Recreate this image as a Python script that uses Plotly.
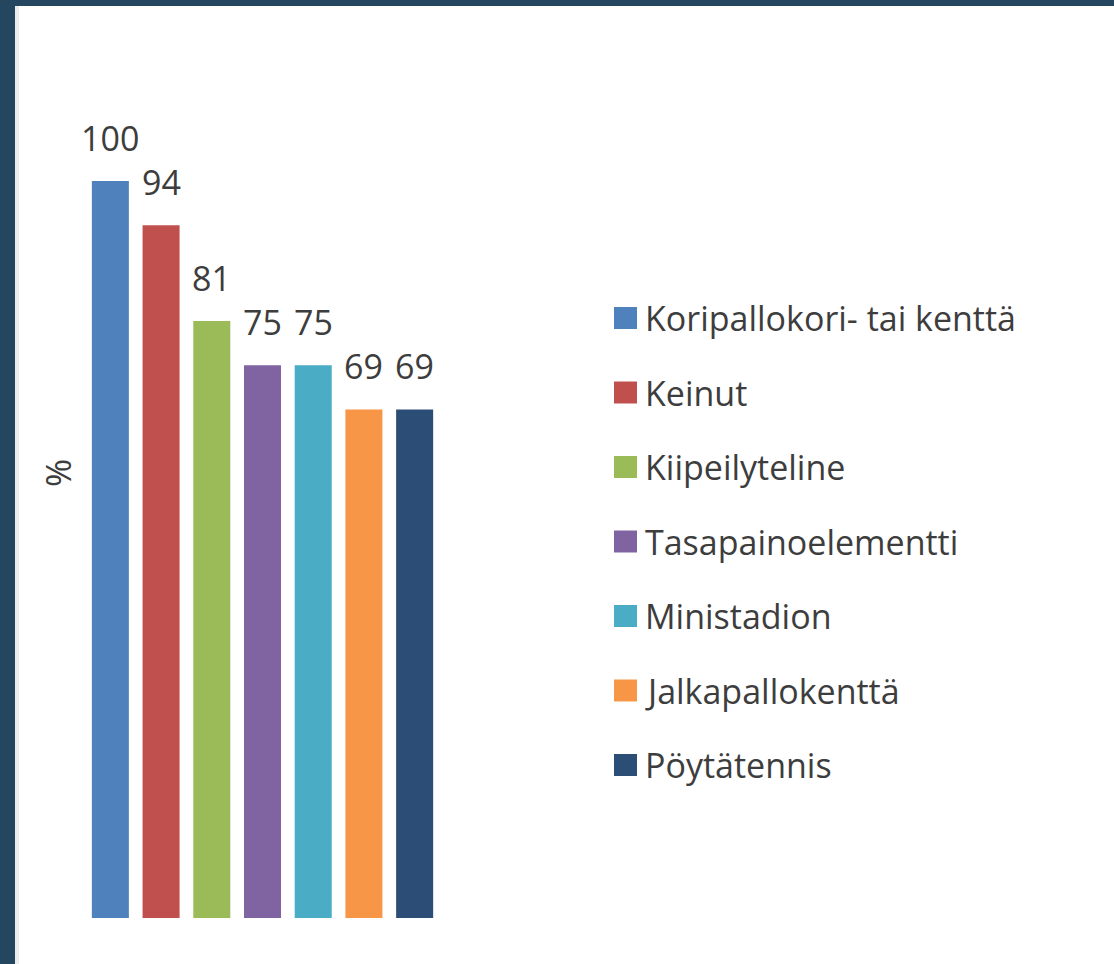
import plotly.graph_objects as go

categories = ["Koripallokori- tai kenttä", "Keinut", "Kiipeilyteline",
              "Tasapainoelementti", "Ministadion", "Jalkapallokenttä", "Pöytätennis"]
values = [100, 94, 81, 75, 75, 69, 69]
colors = ["#4F81BD", "#C0504D", "#9BBB59", "#8064A2", "#4BACC6", "#F79646", "#2C4D75"]
y_title = "%"

W, H = 1114, 964
ML, MR, MT, MB = 85, 674, 28, 46
PW = W - ML - MR
PH = H - MT - MB
TEXT = "#3D3D3D"
FONT = "Open Sans"
FS = 34
NAVY = "#24465F"


def px_x(px):
    return (px - ML) / PW


def px_y(py):
    return (H - MB - py) / PH


fig = go.Figure()
fig.add_trace(go.Bar(
    x=categories, y=values,
    marker=dict(color=colors, line=dict(width=0)),
    showlegend=False, hoverinfo="x+y",
))

annotations = []
for c, v in zip(categories, values):
    annotations.append(dict(
        x=c, y=v, xref="x", yref="y", text=str(v), showarrow=False,
        yanchor="bottom", xanchor="center", yshift=18,
        font=dict(family=FONT, size=FS, color=TEXT),
    ))

annotations.append(dict(
    x=px_x(58), y=px_y(473), xref="paper", yref="paper", text=y_title,
    showarrow=False, textangle=-90, xanchor="center", yanchor="middle",
    font=dict(family=FONT, size=FS, color=TEXT),
))

shapes = [
    dict(type="rect", xref="paper", yref="paper", x0=px_x(0), x1=px_x(15),
         y0=px_y(H), y1=px_y(0), fillcolor=NAVY, line=dict(width=0), layer="below"),
    dict(type="rect", xref="paper", yref="paper", x0=px_x(0), x1=px_x(W),
         y0=px_y(6), y1=px_y(0), fillcolor=NAVY, line=dict(width=0), layer="below"),
    dict(type="rect", xref="paper", yref="paper", x0=px_x(15), x1=px_x(19),
         y0=px_y(H), y1=px_y(6), fillcolor="#EDEDED", line=dict(width=0), layer="below"),
]

# manual legend
leg_y0, leg_step = 318, 74.5
for i, (c, col) in enumerate(zip(categories, colors)):
    cy = leg_y0 + i * leg_step
    shapes.append(dict(type="rect", xref="paper", yref="paper",
                       x0=px_x(614), x1=px_x(637), y0=px_y(cy + 11), y1=px_y(cy - 11),
                       fillcolor=col, line=dict(width=0)))
    annotations.append(dict(
        x=px_x(643), y=px_y(cy), xref="paper", yref="paper", text=c,
        showarrow=False, xanchor="left", yanchor="middle",
        font=dict(family=FONT, size=FS, color=TEXT),
    ))

fig.update_layout(
    width=W, height=H,
    margin=dict(l=ML, r=MR, t=MT, b=MB, pad=0),
    paper_bgcolor="white", plot_bgcolor="rgba(0,0,0,0)",
    bargap=0.27,
    xaxis=dict(visible=False, range=[-0.5, len(categories) - 0.5]),
    yaxis=dict(visible=False, range=[0, PH / 7.37]),
    annotations=annotations, shapes=shapes,
    font=dict(family=FONT, color=TEXT),
)

fig.write_html("out.html", config={"displayModeBar": False},
               post_script="document.body.style.margin='0px';document.body.style.overflow='hidden';")
